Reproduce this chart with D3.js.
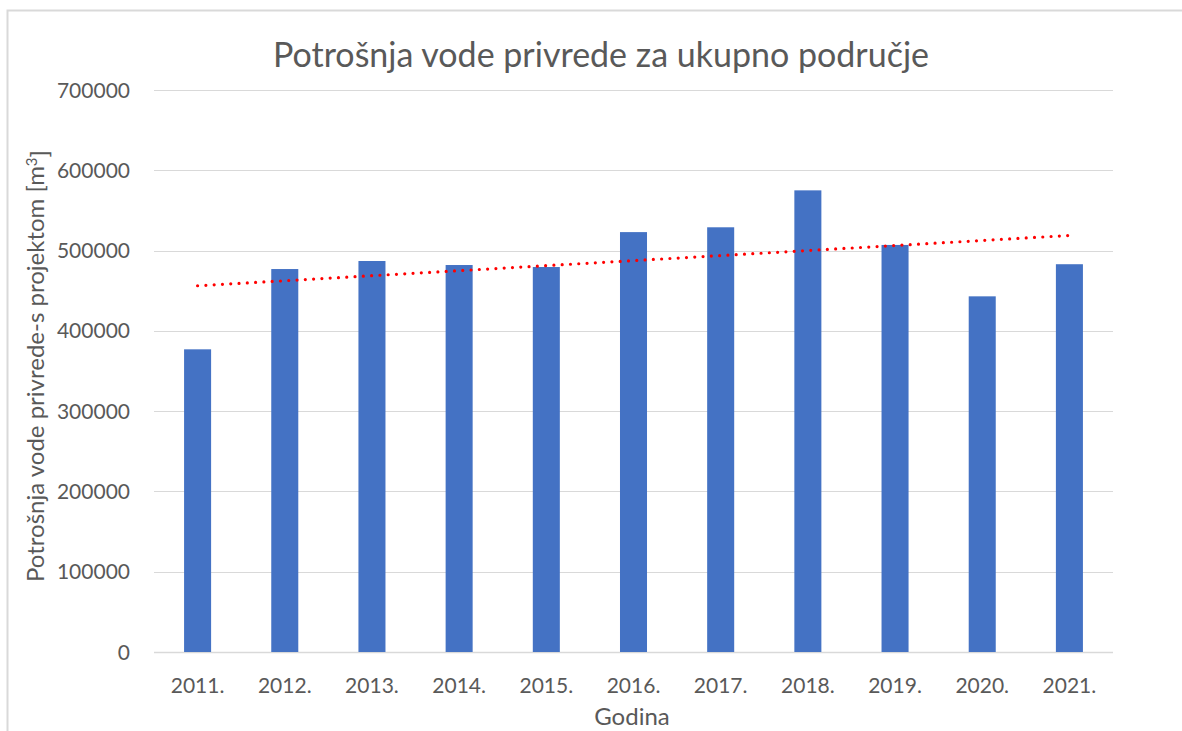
<!DOCTYPE html>
<html>
<head>
<meta charset="utf-8">
<script src="https://cdn.jsdelivr.net/npm/d3@7"></script>
<style>
  body { margin: 0; background: #fff; }
  text { font-family: Lato, "Open Sans", sans-serif; fill: #595959; }
</style>
</head>
<body>
<div class="chart"></div>
<script>
// chart data
var years = ["2011.", "2012.", "2013.", "2014.", "2015.", "2016.", "2017.", "2018.", "2019.", "2020.", "2021."];
var consumption = [377000, 477000, 487000, 482000, 479500, 523000, 529000, 575000, 507000, 443000, 483000];
var yTicks = [0, 100000, 200000, 300000, 400000, 500000, 600000, 700000];

var svgWidth = 1182;
var svgHeight = 731;

var margin = { top: 90, right: 69, bottom: 79, left: 154 };
var width = svgWidth - margin.left - margin.right;
var height = svgHeight - margin.top - margin.bottom;

var svg = d3.select(".chart")
  .append("svg")
  .attr("width", svgWidth)
  .attr("height", svgHeight);

// frame of the chart area
svg.append("path")
  .attr("d", "M7.5," + svgHeight + " V10.5 H" + svgWidth)
  .attr("fill", "none")
  .attr("stroke", "#d9d9d9")
  .attr("stroke-width", 2);

var chartGroup = svg.append("g")
  .attr("transform", `translate(${margin.left}, ${margin.top})`);

var xBandScale = d3.scaleBand()
  .domain(years)
  .range([0, width])
  .paddingInner(0.69)
  .paddingOuter(0.345);

var yLinearScale = d3.scaleLinear()
  .domain([0, 700000])
  .range([height, 0]);

// gridlines
chartGroup.selectAll(".grid")
  .data(yTicks)
  .enter()
  .append("line")
  .attr("x1", 0)
  .attr("x2", width)
  .attr("y1", d => Math.round(yLinearScale(d)) + 0.5)
  .attr("y2", d => Math.round(yLinearScale(d)) + 0.5)
  .attr("stroke", "#d9d9d9")
  .attr("stroke-width", d => d === 0 ? 1.5 : 1);

// y tick labels
chartGroup.selectAll(".ylab")
  .data(yTicks)
  .enter()
  .append("text")
  .attr("x", -24)
  .attr("y", d => yLinearScale(d))
  .attr("dy", "0.36em")
  .attr("text-anchor", "end")
  .attr("font-size", "21px")
  .text(d => d);

// bars
chartGroup.selectAll(".bar")
  .data(consumption)
  .enter()
  .append("rect")
  .attr("x", (d, i) => xBandScale(years[i]))
  .attr("y", d => yLinearScale(d))
  .attr("width", xBandScale.bandwidth())
  .attr("height", d => height - yLinearScale(d))
  .attr("fill", "#4472c4");

// x tick labels
chartGroup.selectAll(".xlab")
  .data(years)
  .enter()
  .append("text")
  .attr("x", d => xBandScale(d) + xBandScale.bandwidth() / 2)
  .attr("y", height + 41)
  .attr("text-anchor", "middle")
  .attr("font-size", "21px")
  .text(d => d);

// linear trendline (least squares)
var n = consumption.length;
var meanX = (n - 1) / 2;
var meanY = d3.mean(consumption);
var slope = d3.sum(consumption, (d, i) => (i - meanX) * (d - meanY)) /
  d3.sum(consumption, (d, i) => (i - meanX) * (i - meanX));
var trend = [0, n - 1].map(i => [i, meanY + slope * (i - meanX)]);

var trendLine = d3.line()
  .x(d => xBandScale(years[d[0]]) + xBandScale.bandwidth() / 2)
  .y(d => yLinearScale(d[1]));

chartGroup.append("path")
  .datum(trend)
  .attr("d", trendLine)
  .attr("fill", "none")
  .attr("stroke", "#ff0000")
  .attr("stroke-width", 3.2)
  .attr("stroke-linecap", "round")
  .attr("stroke-dasharray", "0 8.3");

// title
svg.append("text")
  .attr("x", 601)
  .attr("y", 67)
  .attr("text-anchor", "middle")
  .attr("font-size", "34px")
  .text("Potrošnja vode privrede za ukupno područje");

// axis labels
var yLabel = svg.append("text")
  .attr("transform", "translate(44, 366) rotate(-90)")
  .attr("text-anchor", "middle")
  .attr("font-size", "24px");
yLabel.append("tspan").text("Potrošnja vode privrede-s projektom [m");
yLabel.append("tspan").attr("dy", "-0.45em").attr("font-size", "15px").text("3");
yLabel.append("tspan").attr("dy", "0.45em").text("]");

svg.append("text")
  .attr("x", 632)
  .attr("y", 725)
  .attr("text-anchor", "middle")
  .attr("font-size", "24px")
  .text("Godina");
</script>
</body>
</html>
